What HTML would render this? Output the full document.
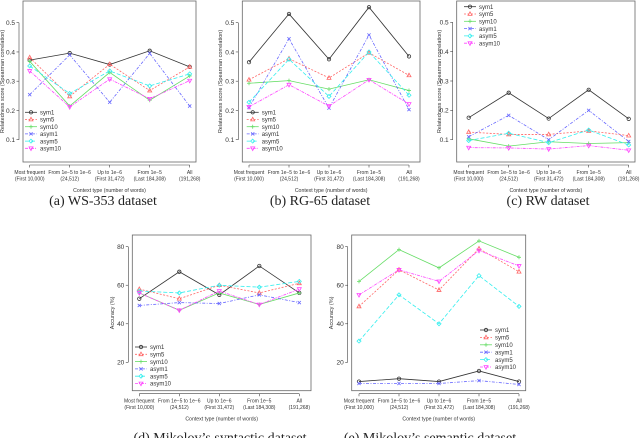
<!DOCTYPE html>
<html><head><meta charset="utf-8">
<style>
html,body{margin:0;padding:0;background:#fff;}
svg{display:block;font-family:"Liberation Sans",sans-serif;}
.cap{font-family:"Liberation Serif",serif;font-size:14px;fill:#222;}
</style></head>
<body>
<svg id="fig" width="640" height="438" viewBox="0 0 640 438" xmlns="http://www.w3.org/2000/svg"></svg>
<script>
const categoriesL1 = ["Most frequent","From 1e\u22125 to 1e\u22126","Up to 1e\u22126","From 1e\u22125","All"];
const categoriesL2 = ["(First 10,000)","(24,512)","(First 31,472)","(Last 184,308)","(191,268)"];
const seriesNames = ["sym1","sym5","sym10","asym1","asym5","asym10"];
// (a) WS-353
const wsSym1=[0.372,0.396,0.357,0.404,0.349];
const wsSym5=[0.381,0.248,0.358,0.268,0.349];
const wsSym10=[0.368,0.215,0.330,0.235,0.318];
const wsAsym1=[0.254,0.390,0.228,0.395,0.215];
const wsAsym5=[0.352,0.258,0.335,0.284,0.325];
const wsAsym10=[0.335,0.212,0.307,0.240,0.302];
// (b) RG-65
const rgSym1=[0.365,0.530,0.375,0.553,0.385];
const rgSym5=[0.305,0.377,0.311,0.397,0.320];
const rgSym10=[0.293,0.302,0.273,0.305,0.268];
const rgAsym1=[0.210,0.445,0.208,0.458,0.203];
const rgAsym5=[0.228,0.375,0.248,0.400,0.252];
const rgAsym10=[0.212,0.288,0.215,0.305,0.222];
// (c) RW
const rwSym1=[0.175,0.260,0.172,0.270,0.171];
const rwSym5=[0.126,0.118,0.118,0.130,0.114];
const rwSym10=[0.103,0.078,0.093,0.087,0.090];
const rwAsym1=[0.110,0.183,0.100,0.200,0.094];
const rwAsym5=[0.097,0.122,0.090,0.133,0.082];
const rwAsym10=[0.073,0.072,0.068,0.080,0.064];
// (d) syntactic
const synSym1=[53,67,55,70,56];
const synSym5=[58,53,60,56,61];
const synSym10=[56,47,56,50,56];
const synAsym1=[49.5,51,50.5,55,51];
const synAsym5=[57,56,60,59,62];
const synAsym10=[56,47,57,50,58];
// (e) semantic
const semSym1=[10,11.5,10,15.5,10];
const semSym5=[49,68,57.5,79,67];
const semSym10=[62,78.5,69,83,74.5];
const semAsym1=[9,9,9,10.5,8.5];
const semAsym5=[31,55,40,65,49];
const semAsym10=[55,68,62,78,70];
const relTicks=[0.1,0.2,0.3,0.4,0.5];
const accTicks=[20,40,60,80];

const NS="http://www.w3.org/2000/svg";
const svg=document.getElementById('fig');
function mk(tag,attrs,parent){const e=document.createElementNS(NS,tag);for(const k in attrs)e.setAttribute(k,attrs[k]);(parent||svg).appendChild(e);return e;}
const styles=[
 {c:"#333",d:"",m:"circle"},
 {c:"#ff6666",d:"2,1.5",m:"tri"},
 {c:"#66dd66",d:"",m:"plus"},
 {c:"#6666ff",d:"3,1.5,1,1.5",m:"x"},
 {c:"#33eeee",d:"4,2",m:"diamond"},
 {c:"#ff44ff",d:"3,1,1,1",m:"itri"}];
function marker(g,s,x,y){
  const c=s.c;let e;
  if(s.m=="circle")e=mk('circle',{cx:x,cy:y,r:1.7,fill:'none',stroke:c,'stroke-width':0.8},g);
  else if(s.m=="tri")e=mk('polygon',{points:`${x},${y-2.2} ${x-2},${y+1.4} ${x+2},${y+1.4}`,fill:'none',stroke:c,'stroke-width':0.8},g);
  else if(s.m=="itri")e=mk('polygon',{points:`${x},${y+2.2} ${x-2},${y-1.4} ${x+2},${y-1.4}`,fill:'none',stroke:c,'stroke-width':0.8},g);
  else if(s.m=="plus")e=mk('path',{d:`M${x-2},${y}H${x+2}M${x},${y-2}V${y+2}`,stroke:c,'stroke-width':0.8},g);
  else if(s.m=="x")e=mk('path',{d:`M${x-1.6},${y-1.6}L${x+1.6},${y+1.6}M${x-1.6},${y+1.6}L${x+1.6},${y-1.6}`,stroke:c,'stroke-width':0.8},g);
  else e=mk('polygon',{points:`${x},${y-2} ${x+2},${y} ${x},${y+2} ${x-2},${y}`,fill:'none',stroke:c,'stroke-width':0.8},g);
  
  
}
function chart(o){
  const g=mk('g',{});
  
  
  const sy=v=>o.y0px+(v-o.v0)*(o.y1px-o.y0px)/(o.v1-o.v0);
  const sx=i=>o.x0+i*40;
  const box=mk('rect',{x:o.bx0,y:o.by0,width:o.bx1-o.bx0,height:o.by1-o.by0,fill:'none',stroke:'#666','stroke-width':0.8},g);
  
  const ax=o.bx0-4;
  mk('line',{x1:ax,x2:ax,y1:sy(o.ticks[0]),y2:sy(o.ticks[o.ticks.length-1]),stroke:'#444','stroke-width':0.6},g);
  o.ticks.forEach(t=>{const y=sy(t);
    mk('line',{x1:ax-2.5,x2:ax,y1:y,y2:y,stroke:'#444','stroke-width':0.6},g);
    const tx=mk('text',{x:ax-4,y:y+2.3,'font-size':6.5,'text-anchor':'end',fill:'#333'},g);tx.textContent=o.fmt(t);
    });
  const bY=o.by1+3;
  mk('line',{x1:sx(0),x2:sx(4),y1:bY,y2:bY,stroke:'#444','stroke-width':0.6},g);
  for(let i=0;i<5;i++){mk('line',{x1:sx(i),x2:sx(i),y1:bY,y2:bY+2.5,stroke:'#444','stroke-width':0.6},g);
    const t1=mk('text',{x:sx(i),y:bY+9,'font-size':5,'text-anchor':'middle',fill:'#333'},g);t1.textContent=categoriesL1[i];
    
    const t2=mk('text',{x:sx(i),y:bY+15.5,'font-size':5,'text-anchor':'middle',fill:'#333'},g);t2.textContent=categoriesL2[i];
    }
  const xt=mk('text',{x:(o.bx0+o.bx1)/2,y:bY+27,'font-size':5.2,'text-anchor':'middle',fill:'#333'},g);xt.textContent="Context type (number of words)";
  
  const yx=o.ytx, yy=(o.by0+o.by1)/2;
  const yt=mk('text',{x:yx,y:yy,'font-size':5.5,'text-anchor':'middle',fill:'#333',transform:`rotate(-90 ${yx} ${yy})`},g);yt.textContent=o.ytitle;
  
  o.series.forEach((vals,si)=>{const s=styles[si];
    const pts=vals.map((v,i)=>sx(i)+','+sy(v)).join(' ');
    const pl=mk('polyline',{points:pts,fill:'none',stroke:s.c,'stroke-width':0.8,'stroke-dasharray':s.d},g);
    
    vals.forEach((v,i)=>marker(g,s,sx(i),sy(v)));});
  seriesNames.forEach((n,si)=>{const s=styles[si];const y=o.ly+si*o.lsp;
    const le=mk('g',{},g);
    mk('line',{x1:o.lx,x2:o.lx+12,y1:y,y2:y,stroke:s.c,'stroke-width':0.8,'stroke-dasharray':s.d},le);
    marker(le,s,o.lx+6,y);
    const t=mk('text',{x:o.lx+15,y:y+2.2,'font-size':6,fill:'#333'},le);t.textContent=n;});
  const cp=mk('text',{x:o.cx,y:o.cy,'text-anchor':'middle',class:'cap'},g);cp.textContent=o.cap;
  
}
const f1=v=>v.toFixed(1), f0=v=>String(v);
chart({name:'chart-ws353',bx0:23,bx1:196,by0:1,by1:162,x0:29.7,v0:0.1,v1:0.5,y0px:139.7,y1px:22.7,ticks:relTicks,fmt:f1,ytx:4,ytitle:"Relatedness score (Spearman correlation)",
 series:[wsSym1,wsSym5,wsSym10,wsAsym1,wsAsym5,wsAsym10],lx:25,ly:112.3,lsp:7.2,cap:"(a) WS-353 dataset",cx:103,cy:205});
chart({name:'chart-rg65',bx0:242.3,bx1:420,by0:1,by1:162,x0:249,v0:0.1,v1:0.5,y0px:139.7,y1px:22.7,ticks:relTicks,fmt:f1,ytx:222,ytitle:"Relatedness score (Spearman correlation)",
 series:[rgSym1,rgSym5,rgSym10,rgAsym1,rgAsym5,rgAsym10],lx:246.7,ly:112.3,lsp:7.2,cap:"(b) RG-65 dataset",cx:320,cy:205});
chart({name:'chart-rw',bx0:456.7,bx1:635,by0:1,by1:162,x0:468.7,v0:0.1,v1:0.5,y0px:139.7,y1px:22.3,ticks:relTicks,fmt:f1,ytx:441,ytitle:"Relatedness score (Spearman correlation)",
 series:[rwSym1,rwSym5,rwSym10,rwAsym1,rwAsym5,rwAsym10],lx:464,ly:6.7,lsp:7.3,cap:"(c) RW dataset",cx:548,cy:205});
chart({name:'chart-syntactic',bx0:132.3,bx1:311,by0:235,by1:390.7,x0:139.3,v0:20,v1:80,y0px:362.3,y1px:246.7,ticks:accTicks,fmt:f0,ytx:114,ytitle:"Accuracy (%)",
 series:[synSym1,synSym5,synSym10,synAsym1,synAsym5,synAsym10],lx:135,ly:347,lsp:7.3,cap:"(d) Mikolov\u2019s syntactic dataset",cx:220,cy:442});
chart({name:'chart-semantic',bx0:351.7,bx1:525.7,by0:235,by1:390.7,x0:359,v0:20,v1:80,y0px:362.3,y1px:246.7,ticks:accTicks,fmt:f0,ytx:333,ytitle:"Accuracy (%)",
 series:[semSym1,semSym5,semSym10,semAsym1,semAsym5,semAsym10],lx:480,ly:330,lsp:7.4,cap:"(e) Mikolov\u2019s semantic dataset",cx:430,cy:442});
</script>
</body></html>
